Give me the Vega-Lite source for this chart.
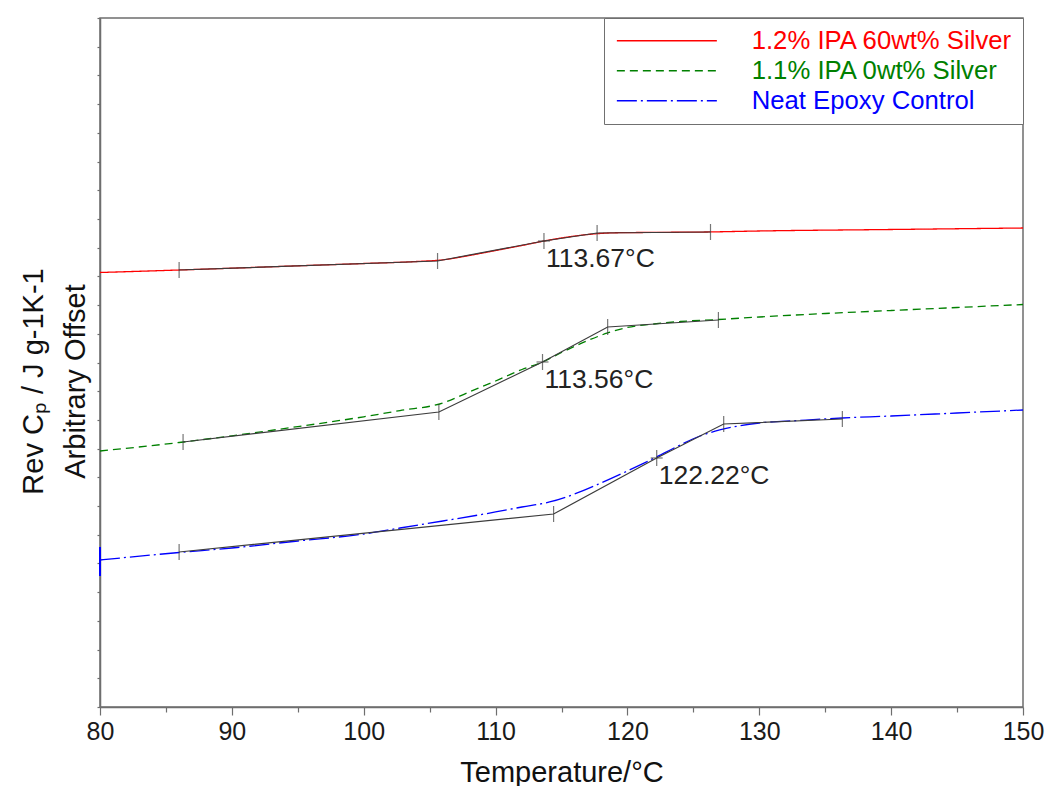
{
  "$schema": "https://vega.github.io/schema/vega-lite/v6.json",
  "width": 923,
  "height": 689,
  "autosize": {"type": "none"},
  "padding": {"left": 100, "top": 18, "right": 24, "bottom": 79},
  "background": "white",
  "config": {
    "font": "Liberation Sans",
    "view": {"stroke": "#6e6e6e", "strokeWidth": 1.5},
    "axis": {
      "grid": false,
      "domainColor": "#6e6e6e",
      "domainWidth": 1.5,
      "tickColor": "#6e6e6e",
      "tickWidth": 1.2,
      "labelFont": "Liberation Sans",
      "titleFont": "Liberation Sans",
      "labelColor": "#1a1a1a",
      "titleColor": "#111111",
      "titleFontWeight": "normal"
    }
  },
  "datasets": {
    "curves": [
      {"series": "1.2% IPA 60wt% Silver", "T": 80, "v": 15.135},
      {"series": "1.2% IPA 60wt% Silver", "T": 86, "v": 15.222},
      {"series": "1.2% IPA 60wt% Silver", "T": 90, "v": 15.285},
      {"series": "1.2% IPA 60wt% Silver", "T": 95, "v": 15.368},
      {"series": "1.2% IPA 60wt% Silver", "T": 100, "v": 15.448},
      {"series": "1.2% IPA 60wt% Silver", "T": 104, "v": 15.518},
      {"series": "1.2% IPA 60wt% Silver", "T": 106, "v": 15.577},
      {"series": "1.2% IPA 60wt% Silver", "T": 108, "v": 15.727},
      {"series": "1.2% IPA 60wt% Silver", "T": 110, "v": 15.901},
      {"series": "1.2% IPA 60wt% Silver", "T": 112, "v": 16.076},
      {"series": "1.2% IPA 60wt% Silver", "T": 113.67, "v": 16.232},
      {"series": "1.2% IPA 60wt% Silver", "T": 115, "v": 16.337},
      {"series": "1.2% IPA 60wt% Silver", "T": 117, "v": 16.459},
      {"series": "1.2% IPA 60wt% Silver", "T": 119, "v": 16.518},
      {"series": "1.2% IPA 60wt% Silver", "T": 122, "v": 16.532},
      {"series": "1.2% IPA 60wt% Silver", "T": 126, "v": 16.546},
      {"series": "1.2% IPA 60wt% Silver", "T": 130, "v": 16.581},
      {"series": "1.2% IPA 60wt% Silver", "T": 140, "v": 16.633},
      {"series": "1.2% IPA 60wt% Silver", "T": 150, "v": 16.685},

      {"series": "1.1% IPA 0wt% Silver", "T": 80, "v": 8.917},
      {"series": "1.1% IPA 0wt% Silver", "T": 86, "v": 9.213},
      {"series": "1.1% IPA 0wt% Silver", "T": 90, "v": 9.447},
      {"series": "1.1% IPA 0wt% Silver", "T": 95, "v": 9.767},
      {"series": "1.1% IPA 0wt% Silver", "T": 100, "v": 10.109},
      {"series": "1.1% IPA 0wt% Silver", "T": 102.75, "v": 10.325},
      {"series": "1.1% IPA 0wt% Silver", "T": 106, "v": 10.589},
      {"series": "1.1% IPA 0wt% Silver", "T": 108, "v": 10.973},
      {"series": "1.1% IPA 0wt% Silver", "T": 110, "v": 11.356},
      {"series": "1.1% IPA 0wt% Silver", "T": 112, "v": 11.756},
      {"series": "1.1% IPA 0wt% Silver", "T": 113.56, "v": 12.018},
      {"series": "1.1% IPA 0wt% Silver", "T": 115, "v": 12.348},
      {"series": "1.1% IPA 0wt% Silver", "T": 117, "v": 12.767},
      {"series": "1.1% IPA 0wt% Silver", "T": 118.5, "v": 13.028},
      {"series": "1.1% IPA 0wt% Silver", "T": 120, "v": 13.22},
      {"series": "1.1% IPA 0wt% Silver", "T": 122, "v": 13.341},
      {"series": "1.1% IPA 0wt% Silver", "T": 124, "v": 13.428},
      {"series": "1.1% IPA 0wt% Silver", "T": 126.9, "v": 13.498},
      {"series": "1.1% IPA 0wt% Silver", "T": 130, "v": 13.585},
      {"series": "1.1% IPA 0wt% Silver", "T": 135, "v": 13.707},
      {"series": "1.1% IPA 0wt% Silver", "T": 140, "v": 13.812},
      {"series": "1.1% IPA 0wt% Silver", "T": 145, "v": 13.916},
      {"series": "1.1% IPA 0wt% Silver", "T": 150, "v": 14.02},

      {"series": "Neat Epoxy Control", "T": 80, "v": 5.121},
      {"series": "Neat Epoxy Control", "T": 86, "v": 5.382},
      {"series": "Neat Epoxy Control", "T": 90, "v": 5.539},
      {"series": "Neat Epoxy Control", "T": 95, "v": 5.782},
      {"series": "Neat Epoxy Control", "T": 100, "v": 6.026},
      {"series": "Neat Epoxy Control", "T": 102.75, "v": 6.235},
      {"series": "Neat Epoxy Control", "T": 106, "v": 6.479},
      {"series": "Neat Epoxy Control", "T": 110, "v": 6.793},
      {"series": "Neat Epoxy Control", "T": 112, "v": 6.967},
      {"series": "Neat Epoxy Control", "T": 114.1, "v": 7.141},
      {"series": "Neat Epoxy Control", "T": 116, "v": 7.42},
      {"series": "Neat Epoxy Control", "T": 118, "v": 7.803},
      {"series": "Neat Epoxy Control", "T": 120, "v": 8.221},
      {"series": "Neat Epoxy Control", "T": 122.2, "v": 8.708},
      {"series": "Neat Epoxy Control", "T": 124, "v": 9.126},
      {"series": "Neat Epoxy Control", "T": 125.5, "v": 9.44},
      {"series": "Neat Epoxy Control", "T": 127, "v": 9.649},
      {"series": "Neat Epoxy Control", "T": 128, "v": 9.753},
      {"series": "Neat Epoxy Control", "T": 130, "v": 9.893},
      {"series": "Neat Epoxy Control", "T": 133, "v": 9.98},
      {"series": "Neat Epoxy Control", "T": 136.3, "v": 10.067},
      {"series": "Neat Epoxy Control", "T": 140, "v": 10.136},
      {"series": "Neat Epoxy Control", "T": 145, "v": 10.241},
      {"series": "Neat Epoxy Control", "T": 150, "v": 10.346}
    ],
    "startSpike": [
      {"series": "Neat Epoxy Control", "T": 80, "v": 5.573, "v2": 4.563}
    ],
    "construction": [
      {"series": "1.2% IPA 60wt% Silver", "T": 86, "v": 15.222, "kind": "limit"},
      {"series": "1.2% IPA 60wt% Silver", "T": 105.6, "v": 15.536, "kind": "onset"},
      {"series": "1.2% IPA 60wt% Silver", "T": 113.67, "v": 16.232, "kind": "Tg"},
      {"series": "1.2% IPA 60wt% Silver", "T": 117.7, "v": 16.511, "kind": "end"},
      {"series": "1.2% IPA 60wt% Silver", "T": 126.3, "v": 16.546, "kind": "limit"},

      {"series": "1.1% IPA 0wt% Silver", "T": 86.3, "v": 9.231, "kind": "limit"},
      {"series": "1.1% IPA 0wt% Silver", "T": 105.7, "v": 10.276, "kind": "onset"},
      {"series": "1.1% IPA 0wt% Silver", "T": 113.56, "v": 12.018, "kind": "Tg"},
      {"series": "1.1% IPA 0wt% Silver", "T": 118.5, "v": 13.237, "kind": "end"},
      {"series": "1.1% IPA 0wt% Silver", "T": 126.9, "v": 13.481, "kind": "limit"},

      {"series": "Neat Epoxy Control", "T": 86, "v": 5.399, "kind": "limit"},
      {"series": "Neat Epoxy Control", "T": 114.4, "v": 6.723, "kind": "onset"},
      {"series": "Neat Epoxy Control", "T": 122.22, "v": 8.674, "kind": "Tg"},
      {"series": "Neat Epoxy Control", "T": 127.3, "v": 9.858, "kind": "end"},
      {"series": "Neat Epoxy Control", "T": 136.3, "v": 10.032, "kind": "limit"}
    ]
  },
  "encoding": {
    "x": {
      "field": "T",
      "type": "quantitative",
      "scale": {"domain": [80, 150], "nice": false, "zero": false},
      "axis": {
        "title": "Temperature/°C",
        "values": [80, 85, 90, 95, 100, 105, 110, 115, 120, 125, 130, 135, 140, 145, 150],
        "labelExpr": "datum.value % 10 === 0 ? datum.label : ''",
        "tickSize": {"condition": {"test": "datum.value % 10 === 0", "value": 8}, "value": 5},
        "labelFontSize": 25,
        "labelPadding": 4,
        "labelFlush": false,
        "labelOverlap": false,
        "titleFontSize": 29,
        "titleBaseline": "alphabetic",
        "titleY": 74
      }
    },
    "y": {
      "field": "v",
      "type": "quantitative",
      "scale": {"domain": [0, 24], "nice": false, "zero": false},
      "axis": {
        "title": ["Rev Cₚ / J g-1K-1", "Arbitrary Offset"],
        "values": [0, 1, 2, 3, 4, 5, 6, 7, 8, 9, 10, 11, 12, 13, 14, 15, 16, 17, 18, 19, 20, 21, 22, 23, 24],
        "labels": false,
        "tickSize": 3,
        "titleFontSize": 29,
        "titleAngle": -90,
        "titleAlign": "center",
        "titleBaseline": "alphabetic",
        "titleLineHeight": 42,
        "titleX": -58,
        "titleY": 363
      }
    }
  },
  "layer": [
    {
      "data": {"name": "curves"},
      "mark": {"type": "line", "strokeWidth": 1.3, "interpolate": "monotone"},
      "encoding": {
        "color": {
          "field": "series",
          "type": "nominal",
          "scale": {
            "domain": ["1.2% IPA 60wt% Silver", "1.1% IPA 0wt% Silver", "Neat Epoxy Control"],
            "range": ["#ff0000", "#008000", "#0000ff"]
          },
          "legend": {
            "title": null,
            "orient": "top-right",
            "offset": 0,
            "padding": 10,
            "strokeColor": "#707070",
            "fillColor": "white",
            "symbolType": "M-1,0H9",
            "symbolSize": 400,
            "symbolStrokeWidth": 1.5,
            "labelOffset": 112,
            "labelFontSize": 25.7,
            "labelLimit": 500,
            "rowPadding": 3,
            "encode": {"labels": {"update": {"fill": {"scale": "color", "field": "value"}}}}
          }
        },
        "strokeDash": {
          "field": "series",
          "type": "nominal",
          "scale": {
            "domain": ["1.2% IPA 60wt% Silver", "1.1% IPA 0wt% Silver", "Neat Epoxy Control"],
            "range": [[1, 0], [8, 5], [20, 4, 2, 4]]
          },
          "legend": {
            "title": null,
            "orient": "top-right",
            "offset": 0,
            "padding": 10,
            "strokeColor": "#707070",
            "fillColor": "white",
            "symbolType": "M-1,0H9",
            "symbolSize": 400,
            "symbolStrokeWidth": 1.5,
            "labelOffset": 112,
            "labelFontSize": 25.7,
            "labelLimit": 500,
            "rowPadding": 3
          }
        }
      }
    },
    {
      "data": {"name": "startSpike"},
      "mark": {"type": "rule", "color": "#0000ff", "strokeWidth": 2},
      "encoding": {"y2": {"field": "v2"}}
    },
    {
      "data": {"name": "construction"},
      "mark": {"type": "line", "color": "#3c3c3c", "strokeWidth": 1.2},
      "encoding": {"detail": {"field": "series", "type": "nominal"}}
    },
    {
      "data": {"name": "construction"},
      "mark": {"type": "tick", "orient": "vertical", "color": "#3c3c3c", "size": 16, "thickness": 1.2}
    },
    {
      "data": {"name": "construction"},
      "transform": [{"filter": "datum.kind === 'Tg'"}],
      "mark": {"type": "tick", "orient": "horizontal", "color": "#3c3c3c", "size": 12, "thickness": 1.2}
    },
    {
      "data": {"name": "construction"},
      "transform": [
        {"filter": "datum.kind === 'Tg'"},
        {"calculate": "format(datum.T, '.2f') + '°C'", "as": "label"}
      ],
      "mark": {"type": "text", "align": "left", "baseline": "top", "dx": 2, "dy": 5, "fontSize": 26.5, "color": "#222222"},
      "encoding": {"text": {"field": "label", "type": "nominal"}}
    }
  ]
}
